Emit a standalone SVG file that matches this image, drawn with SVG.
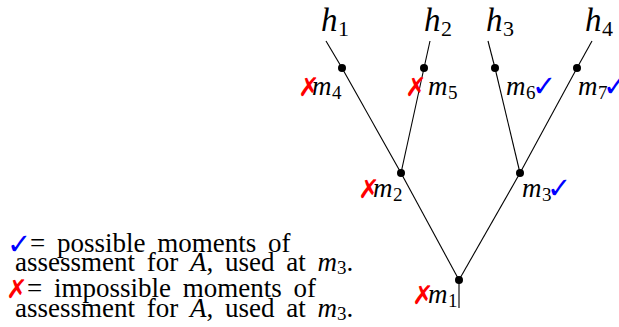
<svg xmlns="http://www.w3.org/2000/svg" width="619" height="327" viewBox="0 0 619 327">
<style>
.t{font-family:"Liberation Serif",serif;font-size:27px;fill:#000;word-spacing:5px}
.mi{font-family:"Liberation Serif",serif;font-style:italic;font-size:27px;fill:#000}
.hi{font-family:"Liberation Serif",serif;font-style:italic;font-size:33px;fill:#000}
.sub{font-family:"Liberation Serif",serif;font-size:19px;fill:#000}
.hsub{font-family:"Liberation Serif",serif;font-size:22px;fill:#000}
.no{font-family:"DejaVu Sans",sans-serif;font-size:26px;fill:#ff0000;font-weight:bold}
.ok{font-family:"DejaVu Sans",sans-serif;font-size:29px;fill:#0000ff;font-weight:bold}
.e{stroke:#000;stroke-width:1.1;fill:none}
.d{fill:#000}
</style>
<g id="connectors">
<line class="e" x1="459" y1="280" x2="401" y2="173"/>
<line class="e" x1="459" y1="280" x2="520" y2="173"/>
<line class="e" x1="459" y1="280" x2="459" y2="308"/>
<line class="e" x1="401" y1="173" x2="342" y2="68"/>
<line class="e" x1="342" y1="68" x2="326" y2="41"/>
<line class="e" x1="401" y1="173" x2="424" y2="68"/>
<line class="e" x1="424" y1="68" x2="430" y2="41"/>
<line class="e" x1="520" y1="173" x2="495" y2="68"/>
<line class="e" x1="495" y1="68" x2="488" y2="41"/>
<line class="e" x1="520" y1="173" x2="577" y2="68"/>
<line class="e" x1="577" y1="68" x2="592" y2="41"/>
</g>
<g id="h1"><text class="hi" x="321" y="31">h</text><text class="hsub" x="338" y="36">1</text></g>
<g id="h2"><text class="hi" x="424" y="31">h</text><text class="hsub" x="441" y="36">2</text></g>
<g id="h3"><text class="hi" x="486" y="31">h</text><text class="hsub" x="503" y="36">3</text></g>
<g id="h4"><text class="hi" x="585" y="31">h</text><text class="hsub" x="602" y="36">4</text></g>
<g id="m4"><circle class="d" cx="342" cy="68" r="4"/><text class="no" x="298" y="96">✗</text><text class="mi" x="312" y="95">m</text><text class="sub" x="332" y="99">4</text></g>
<g id="m5"><circle class="d" cx="424" cy="68" r="4"/><text class="no" x="405" y="96">✗</text><text class="mi" x="428" y="95">m</text><text class="sub" x="448" y="99">5</text></g>
<g id="m6"><circle class="d" cx="495" cy="68" r="4"/><text class="mi" x="506" y="95">m</text><text class="sub" x="526" y="99">6</text><text class="ok" x="532" y="96">✓</text></g>
<g id="m7"><circle class="d" cx="577" cy="68" r="4"/><text class="mi" x="578" y="95">m</text><text class="sub" x="598" y="99">7</text><text class="ok" x="603" y="96">✓</text></g>
<g id="m2"><circle class="d" cx="401" cy="173" r="4"/><text class="no" x="358" y="198">✗</text><text class="mi" x="373" y="197">m</text><text class="sub" x="393" y="201">2</text></g>
<g id="m3"><circle class="d" cx="520" cy="173" r="4"/><text class="mi" x="522" y="197">m</text><text class="sub" x="542" y="201">3</text><text class="ok" x="547" y="198">✓</text></g>
<g id="m1"><circle class="d" cx="459" cy="280" r="4"/><text class="no" x="412" y="304">✗</text><text class="mi" x="428" y="303">m</text><text class="sub" x="448" y="307">1</text></g>
<g id="legend">
<text class="ok" x="7" y="254">✓</text>
<text class="t" x="30" y="252">= possible moments of</text>
<text class="t" x="15" y="271">assessment for <tspan font-style="italic">A</tspan>, used at <tspan font-style="italic">m</tspan><tspan font-size="19" dy="3">3</tspan><tspan dy="-3">.</tspan></text>
<text class="no" x="6" y="298">✗</text>
<text class="t" x="27" y="297">= impossible moments of</text>
<text class="t" x="15" y="317">assessment for <tspan font-style="italic">A</tspan>, used at <tspan font-style="italic">m</tspan><tspan font-size="19" dy="3">3</tspan><tspan dy="-3">.</tspan></text>
</g>
</svg>
